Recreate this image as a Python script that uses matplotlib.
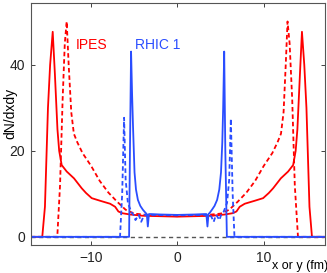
import matplotlib
matplotlib.use("Agg")
import matplotlib.pyplot as plt

plt.rcParams['font.family'] = ['Liberation Sans', 'DejaVu Sans']

# IPES, x direction (red solid)
ipes_x_pos = [-17.0, -15.66, -15.35, -15.0, -14.75, -14.45, -14.2, -13.9, -13.7, -13.41, -12.83, -11.98,
              -11.09, -10.59, -9.93, -8.97, -7.8, -7.22, -6.84, -6.4, -5.5, -4.0, -2.0, 0.0,
              2.0, 4.0, 5.5, 6.4, 6.84, 7.22, 7.8, 8.97, 9.93, 10.59, 11.09, 11.98, 12.83,
              13.41, 13.7, 13.9, 14.2, 14.43, 14.7, 14.95, 15.3, 15.59, 17.0]
ipes_x_val = [0.0, 0.0, 7.0, 30.0, 40.0, 47.7, 38.0, 25.0, 20.0, 16.7, 15.2, 13.6,
              11.3, 10.2, 9.0, 8.4, 7.7, 7.0, 5.9, 5.5, 5.2, 4.9, 4.8, 4.7,
              4.8, 4.9, 5.2, 5.5, 5.9, 7.0, 7.7, 8.4, 9.0, 10.2, 11.3, 13.6, 15.2,
              16.7, 20.0, 25.0, 38.0, 47.7, 40.0, 30.0, 7.0, 0.0, 0.0]

# IPES, y direction (red dashed)
ipes_y_pos = [-17.0, -13.92, -13.6, -13.3, -13.05, -12.83, -12.6, -12.3, -12.0, -11.6, -11.0, -10.0,
              -9.0, -8.0, -7.0, -6.0, -5.0, -3.0, 0.0, 3.0, 5.0, 6.0, 7.0, 8.0, 9.0,
              10.0, 11.0, 11.6, 12.0, 12.3, 12.55, 12.76, 13.0, 13.3, 13.6, 13.97, 17.0]
ipes_y_val = [0.0, 0.0, 12.0, 32.0, 45.0, 50.1, 40.0, 29.0, 24.0, 22.0, 19.5, 16.5,
              13.0, 10.3, 8.2, 6.3, 5.4, 5.0, 4.8, 5.0, 5.4, 6.3, 8.2, 10.3, 13.0,
              16.5, 19.5, 22.0, 24.0, 29.0, 40.0, 50.1, 45.0, 32.0, 12.0, 0.0, 0.0]

# RHIC 1, x direction (blue solid)
rhic_x_pos = [-17.0, -5.6, -5.5, -5.37, -5.25, -5.15, -4.97, -4.8, -4.58, -4.3, -4.0, -3.7,
              -3.55, -3.43, -3.3, -3.1, -2.0, 0.0, 2.0, 3.15, 3.35, 3.48, 3.6, 3.75,
              4.0, 4.3, 4.6, 4.85, 5.05, 5.2, 5.3, 5.42, 5.55, 5.73, 17.0]
rhic_x_val = [0.0, 0.0, 20.0, 43.1, 33.0, 26.0, 15.0, 11.0, 8.6, 7.2, 6.3, 5.6,
              5.3, 2.4, 5.3, 5.3, 5.2, 5.1, 5.2, 5.3, 5.3, 2.4, 5.3, 5.6,
              6.3, 7.2, 8.6, 11.0, 15.0, 22.0, 30.0, 43.1, 20.0, 0.0, 0.0]

# RHIC 1, y direction (blue dashed)
rhic_y_pos = [-17.0, -6.65, -6.4, -6.18, -6.0, -5.74, -5.35, -5.05, -4.86, -4.6, -4.47, -4.2,
              -3.95, -3.8, -3.5, 0.0, 3.5, 3.8, 3.95, 4.2, 4.47, 4.6, 4.86, 5.05,
              5.35, 5.75, 6.0, 6.19, 6.4, 6.61, 17.0]
rhic_y_val = [0.0, 0.0, 10.0, 27.7, 13.3, 7.9, 5.8, 5.0, 3.9, 4.8, 5.1, 3.5,
              4.6, 5.1, 5.1, 5.0, 5.1, 5.1, 4.6, 3.5, 5.1, 4.8, 3.9, 5.0,
              5.8, 7.9, 13.3, 27.5, 10.0, 0.0, 0.0]

zero_pos = [-17.0, 17.0]
zero_val = [0.0, 0.0]

x_ticks = [-10, 0, 10]
y_ticks = [0, 20, 40]

red = '#ff0000'
blue = '#2a4dff'

W, H = 327, 273
fig = plt.figure(figsize=(W / 100, H / 100), dpi=100)
ax = fig.add_axes([30.7 / W, (H - 245) / H, (325 - 30.7) / W, (245 - 3) / H])

ax.plot(zero_pos, zero_val, color='#555555', lw=1.0, dashes=(3, 2.5))
ax.plot(ipes_x_pos, ipes_x_val, color=red, lw=1.3)
ax.plot(ipes_y_pos, ipes_y_val, color=red, lw=1.3, dashes=(2.5, 1.6))
ax.plot(rhic_x_pos, rhic_x_val, color=blue, lw=1.3)
ax.plot(rhic_y_pos, rhic_y_val, color=blue, lw=1.3, dashes=(2.5, 1.6))

ax.text(-11.8, 44.6, 'IPES', color=red, fontsize=10, va='center', ha='left')
ax.text(-4.9, 44.6, 'RHIC 1', color=blue, fontsize=10, va='center', ha='left')

ax.set_xlim(-17, 17.1)
ax.set_ylim(-1.9, 54.4)
ax.set_xticks(x_ticks)
ax.set_yticks(y_ticks)
ax.set_xticklabels(['\u221210', '0', '10'])
ax.tick_params(direction='in', length=3, width=0.6, top=True, right=True,
               labelsize=10, colors='#222222', pad=4)
for s in ax.spines.values():
    s.set_color('#555555')
    s.set_linewidth(0.8)

fig.text(10 / W, 1 - 113 / H, 'dN/dxdy', rotation=90, fontsize=10, ha='center', va='center')
fig.text(300 / W, 1 - 271.5 / H, 'x or y (fm)', fontsize=9, ha='center', va='bottom')

fig.savefig('out.png', dpi=100)
